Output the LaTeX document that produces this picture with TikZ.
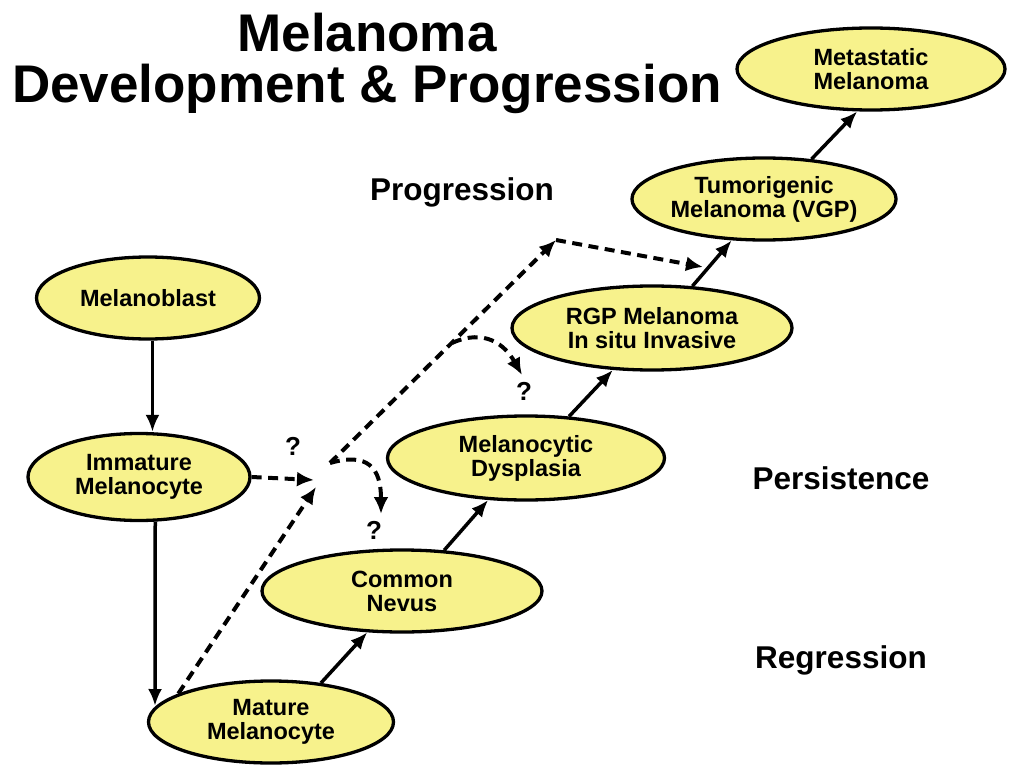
\documentclass[tikz,border=0pt]{standalone}
\usepackage{fontspec}
\setmainfont{Liberation Sans}
\usetikzlibrary{shapes.geometric,arrows.meta,calc}
\definecolor{nodeyellow}{RGB}{247,242,140}
\begin{document}
\begin{tikzpicture}[x=1pt,y=-1pt,
  ell/.style={ellipse, draw, line width=3.3pt, fill=nodeyellow, inner sep=0pt,
    align=center, font=\bfseries\fontsize{23.5}{24}\selectfont},
  sarr/.style={line width=3.5pt, -{Latex[length=17pt,width=14pt]}},
  darr/.style={line width=4pt, dash pattern=on 10pt off 6.5pt, -{Latex[length=17pt,width=15pt]}},
  lbl/.style={font=\bfseries\fontsize{31.5}{34}\selectfont},
  qm/.style={font=\bfseries\fontsize{26}{26}\selectfont},
  ttl/.style={align=center, font=\bfseries\fontsize{53}{51}\selectfont}]
\useasboundingbox (0,0) rectangle (1012,765);
% title
\node[ttl] (title) at (367,63) {Melanoma\\Development \& Progression};
% nodes
\node[ell, minimum width=223pt, minimum height=82pt] (mb) at (148,298) {Melanoblast};
\node[ell, minimum width=222pt, minimum height=87pt] (im) at (139,477) {Immature\\Melanocyte};
\node[ell, minimum width=245pt, minimum height=82pt] (mm) at (271,722) {Mature\\Melanocyte};
\node[ell, minimum width=280pt, minimum height=82pt] (cn) at (402,591) {Common\\Nevus};
\node[ell, minimum width=277pt, minimum height=84pt] (md) at (526,458) {Melanocytic\\Dysplasia};
\node[ell, minimum width=280pt, minimum height=84pt] (rgp) at (652,328) {RGP Melanoma\\In situ Invasive};
\node[ell, minimum width=248pt, minimum height=82pt] (tum) at (764,199) {Tumorigenic\\Melanoma (VGP)};
\node[ell, minimum width=268pt, minimum height=82pt] (mt) at (871,69) {Metastatic\\Melanoma};
% labels
\node[lbl] (lprog) at (462,192) {Progression};
\node[lbl] (lpers) at (841,478) {Persistence};
\node[lbl] (lreg) at (841,660) {Regression};
% question marks
\node[qm] (q0) at (293,446) {?};
\node[qm] (q1) at (374,530) {?};
\node[qm] (q2) at (524,391) {?};
% helper coordinates
\coordinate (j1) at (330,463);
\coordinate (j2) at (556,240);
\coordinate (jin) at (314,480);
\coordinate (jup) at (316,487);
\coordinate (t1) at (703,267);
\coordinate (c1) at (381,514);
\coordinate (b2) at (452,343);
\coordinate (c2) at (522,375);
\coordinate (mmtip) at (155,706);
% solid arrows
\draw[sarr] (mb.-84) -- (mb.-84 |- im.north);
\draw[sarr] (im.-70) -- (mmtip);
\draw[sarr] (mm.38) -- (cn.-130);
\draw[sarr] (cn.44) -- (md.-132);
\draw[sarr] (md.44) -- (rgp.-133);
\draw[sarr] (rgp.46) -- (tum.-128);
\draw[sarr] (tum.40) -- (mt.-108);
% dashed arrows
\draw[darr] (im.east) -- (jin);
\draw[darr] (mm.163) -- (jup);
\draw[darr] (j1) -- (j2);
\draw[darr] (j2) -- (t1);
\draw[darr] (j1) .. controls (368,452) and (381,468) .. (c1);
\draw[darr] (b2) .. controls (485,328) and (505,345) .. (c2);
\end{tikzpicture}
\end{document}
